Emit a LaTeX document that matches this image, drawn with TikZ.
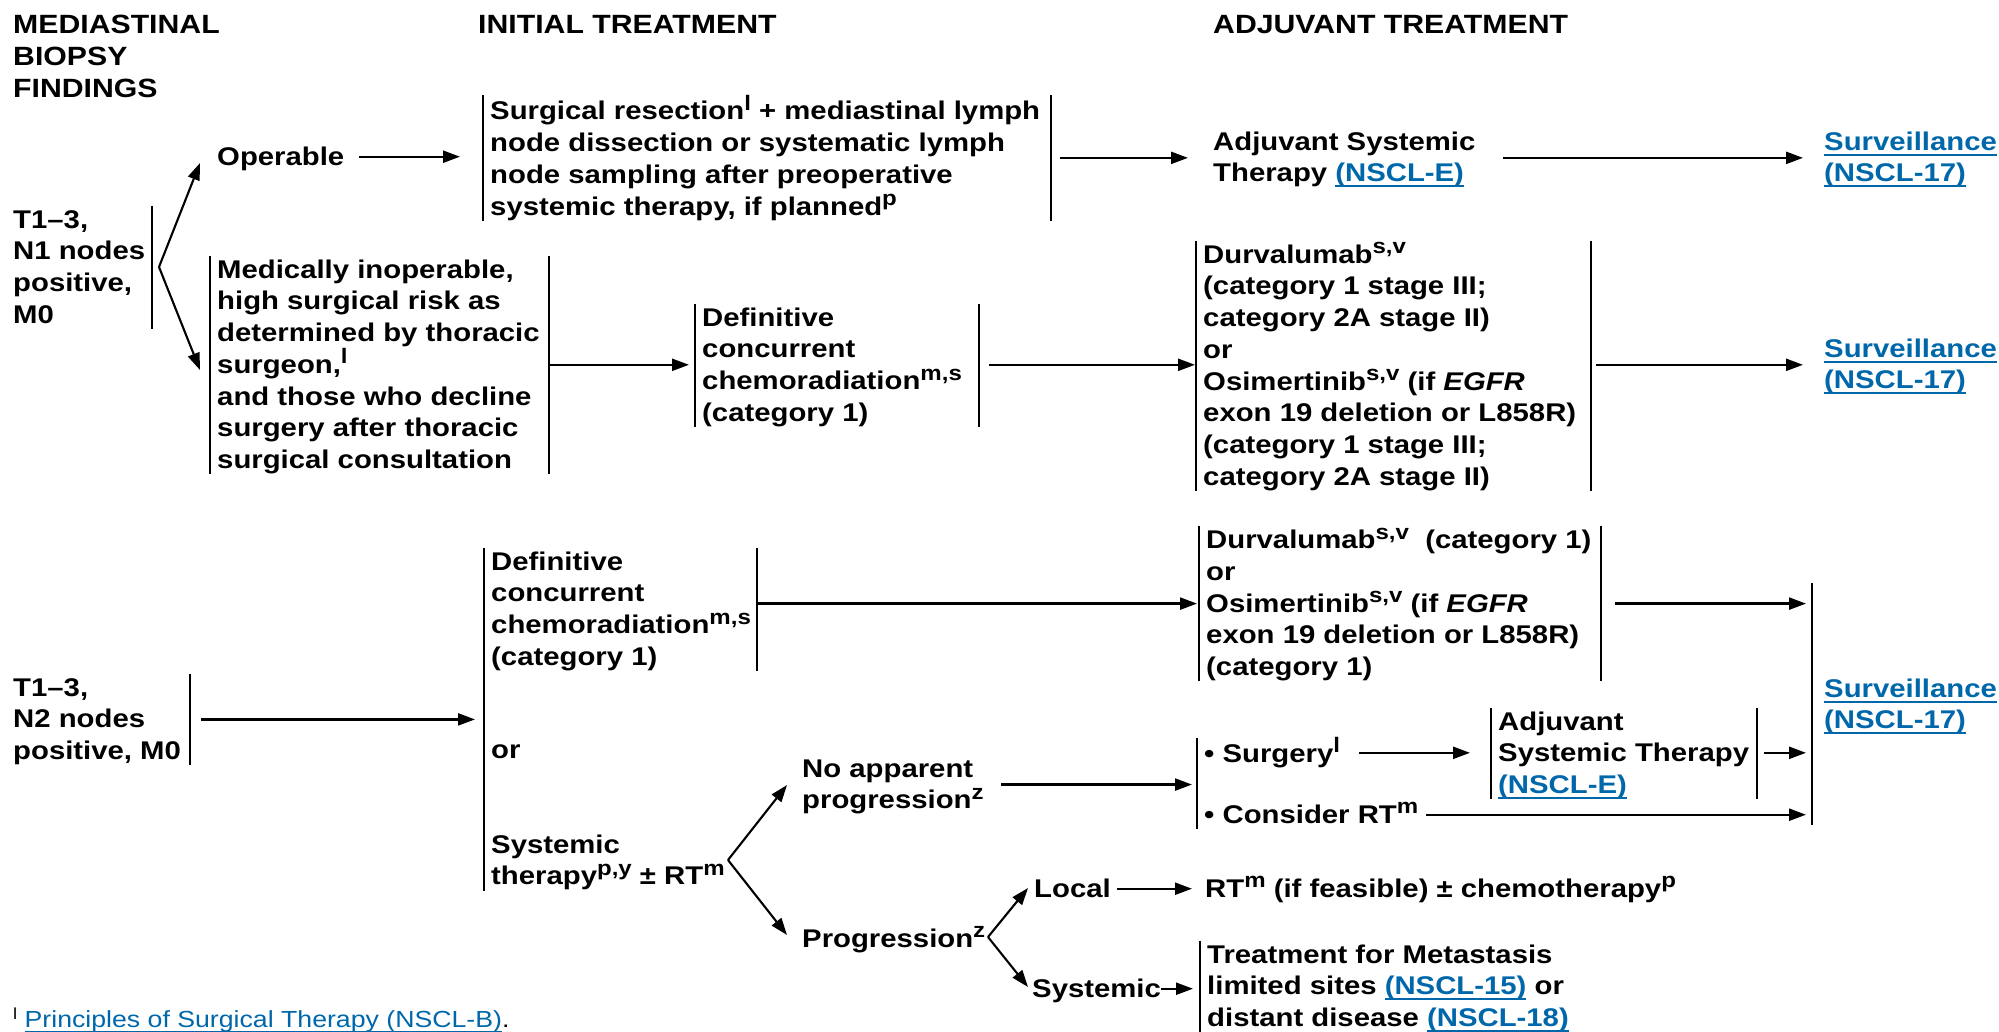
\documentclass[tikz,border=0pt]{standalone}
\usepackage{fontspec}
\setmainfont{Liberation Sans}[FakeStretch=1.145]
\usetikzlibrary{arrows.meta,calc}
\definecolor{lnkc}{RGB}{0,104,170}
\newsavebox{\lnkbox}
\newcommand{\lnk}[1]{\sbox{\lnkbox}{#1}\textcolor{lnkc}{\rlap{\rule[-5.5pt]{\wd\lnkbox}{2pt}}#1}}
\newcommand{\tstr}{\rule{0pt}{22.5pt}}
\newcommand{\bstr}{\rule[-5.5pt]{0pt}{5.5pt}}
\newcommand{\sps}[1]{\raisebox{9.5pt}{\fontsize{21}{21}\selectfont #1}}
\newcommand{\bodyf}{\fontsize{25.6}{31.7}\selectfont\bfseries}
\newcommand{\headf}{\fontsize{26.4}{32}\selectfont\bfseries}
\begin{document}
\begin{tikzpicture}[x=1pt,y=-1pt,
  tb/.style={anchor=north west,inner xsep=7pt,inner ysep=0pt,align=left,font=\bodyf},
  pt/.style={tb,inner xsep=0pt},
  hd/.style={anchor=north west,inner sep=0pt,align=left,font=\headf},
  bar/.style={line width=2.3pt},
  arr/.style={line width=2.3pt,-{Triangle[length=17pt,width=12pt]}},
  fk/.style={line width=2.1pt,-{Triangle[length=17pt,width=12pt]}}]
\fill[white] (0,0) rectangle (1999,1031);
\useasboundingbox (0,0) rectangle (1999,1031);

% headers
\node[hd] (h1) at (13,10.5) {\tstr MEDIASTINAL\\BIOPSY\\FINDINGS};
\node[hd] (h2) at (478,10.5) {\tstr INITIAL TREATMENT};
\node[hd] (h3) at (1213,10.5) {\tstr ADJUVANT TREATMENT};

% ---------- N1 row ----------
\node[pt] (n1) at (13,205.5) {\tstr T1–3,\\N1 nodes\\positive,\\M0\bstr};
\coordinate (n1r) at (152,0);
\draw[bar] (n1r |- n1.north) -- (n1r |- n1.south);

\node[pt] (op) at (217,142.5) {\tstr Operable\bstr};

\node[tb] (sr) at (483,95) {\tstr Surgical resection\sps{l} + mediastinal lymph\\node dissection or systematic lymph\\node sampling after preoperative\\systemic therapy, if planned\sps{p}\bstr};
\coordinate (srr) at (1051,0);
\draw[bar] (sr.north west) -- (sr.south west);
\draw[bar] (srr |- sr.north) -- (srr |- sr.south);

\node[pt] (adj1) at (1213,127.5) {\tstr Adjuvant Systemic\\Therapy \lnk{(NSCL-E)}\bstr};
\node[pt] (sv1) at (1824,127.5) {\tstr\lnk{Surveillance}\\\lnk{(NSCL-17)}\bstr};

\node[tb] (mi) at (210,255.5) {\tstr Medically inoperable,\\high surgical risk as\\determined by thoracic\\surgeon,\sps{l}\\and those who decline\\surgery after thoracic\\surgical consultation\bstr};
\coordinate (mir) at (549,0);
\draw[bar] (mi.north west) -- (mi.south west);
\draw[bar] (mir |- mi.north) -- (mir |- mi.south);

\node[tb] (dc1) at (695,303.5) {\tstr Definitive\\concurrent\\chemoradiation\sps{m,s}\\(category 1)\bstr};
\coordinate (dc1r) at (979,0);
\draw[bar] (dc1.north west) -- (dc1.south west);
\draw[bar] (dc1r |- dc1.north) -- (dc1r |- dc1.south);

\node[tb] (dv1) at (1196,240.5) {\tstr Durvalumab\sps{s,v}\\(category 1 stage III;\\category 2A stage II)\\or\\Osimertinib\sps{s,v} (if \textit{EGFR}\\exon 19 deletion or L858R)\\(category 1 stage III;\\category 2A stage II)\bstr};
\coordinate (dv1r) at (1591,0);
\draw[bar] (dv1.north west) -- (dv1.south west);
\draw[bar] (dv1r |- dv1.north) -- (dv1r |- dv1.south);

\node[pt] (sv2) at (1824,334.5) {\tstr\lnk{Surveillance}\\\lnk{(NSCL-17)}\bstr};

% fork N1
\coordinate (f1) at (159,267);
\coordinate (f1u) at (200,163);
\coordinate (f1d) at (200,370);
\draw[fk] (f1) -- (f1u);
\draw[fk] (f1) -- (f1d);

% arrows N1
\draw[arr,shorten <=15pt,shorten >=23pt] (op.east) -- (op.east -| sr.west);
\draw[arr,shorten <=9pt,shorten >=25pt] (srr |- sr.east) -- (sr.east -| adj1.west);
\draw[arr,shorten <=27pt,shorten >=21pt] (adj1.east |- sr.east) -- (sr.east -| sv1.west);
\draw[arr,shorten >=6pt] (mir |- mi.east) -- (mi.east -| dc1.west);
\draw[arr,shorten <=10pt,shorten >=1pt] (dc1r |- mi.east) -- (mi.east -| dv1.west);
\draw[arr,shorten <=5pt,shorten >=21pt] (dv1r |- mi.east) -- (mi.east -| sv2.west);

% ---------- N2 row ----------
\node[pt] (n2) at (13,673.5) {\tstr T1–3,\\N2 nodes\\positive, M0\bstr};
\coordinate (n2r) at (190,0);
\draw[bar] (n2r |- n2.north) -- (n2r |- n2.south);

\node[tb] (dc2) at (484,547.5) {\tstr Definitive\\concurrent\\chemoradiation\sps{m,s}\\(category 1)\bstr};
\coordinate (dc2r) at (757,0);
\draw[bar] (dc2r |- dc2.north) -- (dc2r |- dc2.south);
\node[tb] (or2) at (484,735.5) {\tstr or};
\node[tb] (st2) at (484,830.5) {\tstr Systemic\\therapy\sps{p,y} ± RT\sps{m}\bstr};
\draw[bar] (dc2.north west) -- (st2.south west);

\draw[arr,shorten <=11pt,shorten >=9pt] (n2r |- n2.east) -- (n2.east -| dc2.west);

\node[tb] (dv2) at (1199,526) {\tstr Durvalumab\sps{s,v}\ \ (category 1)\\or\\Osimertinib\sps{s,v} (if \textit{EGFR}\\exon 19 deletion or L858R)\\(category 1)\bstr};
\coordinate (dv2r) at (1601,0);
\draw[bar] (dv2.north west) -- (dv2.south west);
\draw[bar] (dv2r |- dv2.north) -- (dv2r |- dv2.south);

\draw[arr,shorten >=2pt] (dc2r |- dv2.west) -- (dv2.west);

% surveillance bar N2
\coordinate (sbt) at (1812,583);
\coordinate (sbb) at (1812,825);
\draw[bar] (sbt) -- (sbb);
\node[pt] (sv3) at (1824,674.5) {\tstr\lnk{Surveillance}\\\lnk{(NSCL-17)}\bstr};

\draw[arr,shorten <=14pt,shorten >=6pt] (dv2r |- dv2.east) -- (sbt |- dv2.east);

% fork after systemic therapy
\coordinate (f2) at (728,860);
\coordinate (f2u) at (787,785);
\coordinate (f2d) at (787,935);
\draw[fk] (f2) -- (f2u);
\draw[fk] (f2) -- (f2d);

\node[pt] (nap) at (802,754.5) {\tstr No apparent\\progression\sps{z}\bstr};
\node[tb] (sg1) at (1197,737.5) {\tstr • Surgery\sps{l}\bstr};
\node[tb] (sg2) at (1197,800.5) {\tstr • Consider RT\sps{m}\bstr};
\draw[bar] (sg1.north west) -- (sg2.south west);
\coordinate (sgm) at (1197,783);
\draw[arr,shorten <=17pt,shorten >=5pt] (nap.east) -- (nap.east -| sgm);

\node[tb] (asb) at (1491,707.5) {\tstr Adjuvant\\Systemic Therapy\\\lnk{(NSCL-E)}\bstr};
\coordinate (asbr) at (1757,0);
\draw[bar] (asb.north west) -- (asb.south west);
\draw[bar] (asbr |- asb.north) -- (asbr |- asb.south);

\draw[arr,shorten <=12pt,shorten >=21pt] (sg1.east) -- (sg1.east -| asb.west);
\draw[arr,shorten <=7pt,shorten >=6pt] (asbr |- sg1.east) -- (sbt |- sg1.east);
\draw[arr,shorten <=1pt,shorten >=6pt] (sg2.east) -- (sg2.east -| sbt);

\node[pt] (prg) at (802,924.5) {\tstr Progression\sps{z}\bstr};
\coordinate (f3) at (988,937);
\coordinate (f3u) at (1028,888);
\coordinate (f3d) at (1028,987);
\draw[fk] (f3) -- (f3u);
\draw[fk] (f3) -- (f3d);

\node[pt] (loc) at (1034,874.5) {\tstr Local\bstr};
\node[tb] (rt) at (1198,874.5) {\tstr RT\sps{m} (if feasible) ± chemotherapy\sps{p}\bstr};
\draw[arr,shorten <=6pt,shorten >=6pt] (loc.east) -- (loc.east -| rt.west);

\node[pt] (sys) at (1032,974.5) {\tstr Systemic\bstr};
\node[tb] (tm) at (1200,940.5) {\tstr Treatment for Metastasis\\limited sites \lnk{(NSCL-15)} or\\distant disease \lnk{(NSCL-18)}\bstr};
\draw[bar] (tm.north west) -- (tm.south west);
\draw[arr,shorten >=7pt] (sys.east) -- (sys.east -| tm.west);

% footnote
\node[anchor=base west,inner sep=0pt,font=\fontsize{23.3}{28}\selectfont] (fn) at (13,1027) {\raisebox{8pt}{\fontsize{16}{16}\selectfont l} \lnk{Principles of Surgical Therapy (NSCL-B)}.};
\end{tikzpicture}
\end{document}
